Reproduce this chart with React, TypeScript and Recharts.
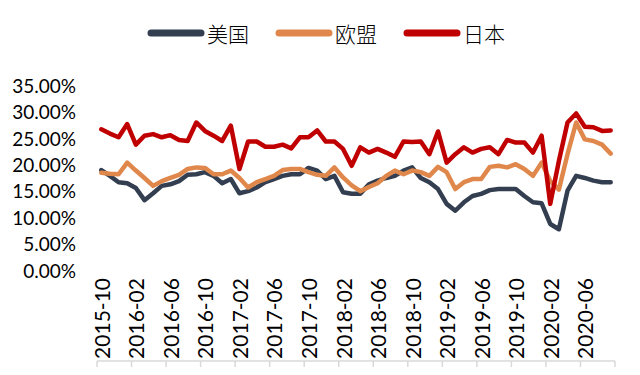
import React from 'react';
import { LineChart, Line, XAxis, YAxis, Legend } from 'recharts';

const months: string[] = [
  '2015-10', '2015-11', '2015-12',
  '2016-01', '2016-02', '2016-03', '2016-04', '2016-05', '2016-06', '2016-07', '2016-08', '2016-09', '2016-10', '2016-11', '2016-12',
  '2017-01', '2017-02', '2017-03', '2017-04', '2017-05', '2017-06', '2017-07', '2017-08', '2017-09', '2017-10', '2017-11', '2017-12',
  '2018-01', '2018-02', '2018-03', '2018-04', '2018-05', '2018-06', '2018-07', '2018-08', '2018-09', '2018-10', '2018-11', '2018-12',
  '2019-01', '2019-02', '2019-03', '2019-04', '2019-05', '2019-06', '2019-07', '2019-08', '2019-09', '2019-10', '2019-11', '2019-12',
  '2020-01', '2020-02', '2020-03', '2020-04', '2020-05', '2020-06', '2020-07', '2020-08', '2020-09',
];

const usa: number[] = [
  19.1, 18.0, 16.8, 16.6, 15.7, 13.4, 14.7, 16.1, 16.4, 17.0, 18.2, 18.3,
  18.7, 18.0, 16.6, 17.4, 14.7, 15.1, 15.8, 16.8, 17.4, 18.0, 18.3, 18.3,
  19.5, 19.0, 17.4, 18.0, 14.9, 14.6, 14.6, 16.4, 17.1, 17.6, 18.0, 19.0,
  19.6, 17.6, 16.8, 15.5, 12.7, 11.4, 13.0, 14.2, 14.6, 15.3, 15.5, 15.5,
  15.5, 14.2, 13.0, 12.8, 8.9, 7.9, 15.2, 18.0, 17.6, 17.1, 16.8, 16.8,
];

const eu: number[] = [
  18.6, 18.4, 18.3, 20.5, 19.0, 17.6, 16.1, 17.0, 17.6, 18.2, 19.3, 19.6,
  19.5, 18.3, 18.3, 19.0, 17.6, 15.8, 16.8, 17.4, 18.0, 19.1, 19.3, 19.3,
  18.7, 18.2, 18.0, 19.6, 17.7, 16.2, 15.1, 15.9, 16.6, 18.0, 19.0, 18.3,
  19.0, 18.7, 18.0, 19.7, 18.7, 15.5, 16.8, 17.4, 17.4, 19.7, 19.9, 19.6,
  20.2, 19.3, 18.0, 20.5, 17.0, 15.4, 22.1, 28.1, 24.9, 24.6, 23.9, 22.2,
];

const japan: number[] = [
  26.8, 26.0, 25.3, 27.8, 23.9, 25.6, 25.9, 25.3, 25.7, 24.8, 24.6, 28.1,
  26.5, 25.6, 24.6, 27.5, 19.3, 24.5, 24.5, 23.5, 23.5, 23.9, 23.2, 25.3,
  25.3, 26.6, 24.5, 24.5, 23.1, 19.9, 23.4, 22.4, 23.1, 22.4, 21.6, 24.5,
  24.4, 24.5, 22.1, 26.4, 20.5, 22.1, 23.4, 22.4, 23.1, 23.4, 22.1, 24.8,
  24.3, 24.3, 22.4, 25.6, 12.7, 20.8, 28.1, 29.8, 27.3, 27.2, 26.5, 26.6,
];

const seriesNames = { usa: '美国', eu: '欧盟', japan: '日本' };
const colors = { usa: '#333F50', eu: '#E0884C', japan: '#C00000' };

const yTicks: number[] = [0, 5, 10, 15, 20, 25, 30, 35];
const boundaryTicks: number[] = [0, 4, 8, 12, 16, 20, 24, 28, 32, 36, 40, 44, 48, 52, 56, 60];
const labelTicks: number[] = [0.5, 4.5, 8.5, 12.5, 16.5, 20.5, 24.5, 28.5, 32.5, 36.5, 40.5, 44.5, 48.5, 52.5, 56.5];

const data = months.map((m, i) => ({
  x: i + 0.5,
  month: m,
  usa: usa[i],
  eu: eu[i],
  japan: japan[i],
}));

const FONT = 'Lato, "Noto Sans", sans-serif';

const MonthTick = (props: any) => {
  const { x, y, payload } = props;
  const label = months[Math.floor(payload.value)];
  const ty = y + 7;
  return (
    <text
      x={x}
      y={ty}
      transform={`rotate(-90, ${x}, ${ty})`}
      textAnchor="end"
      dominantBaseline="central"
      fontSize={21}
      fontFamily={FONT}
      fill="#000"
    >
      {label}
    </text>
  );
};

const LegendContent = () => {
  const keys: Array<'usa' | 'eu' | 'japan'> = ['usa', 'eu', 'japan'];
  return (
    <div style={{ height: 86, width: 640, position: 'relative' }}>
      <div style={{ position: 'absolute', top: 20, left: 147, display: 'flex', alignItems: 'center' }}>
        {keys.map((k, idx) => (
          <div key={k} style={{ display: 'flex', alignItems: 'center', marginRight: idx < 2 ? 26 : 0 }}>
            <svg width={58} height={12} style={{ display: 'block' }}>
              <line x1={4} y1={6} x2={54} y2={6} stroke={colors[k]} strokeWidth={7} strokeLinecap="round" />
            </svg>
            <span style={{ fontFamily: '"Noto Sans CJK SC", sans-serif', fontSize: 21, lineHeight: '26px', color: '#000', marginLeft: 2, fontWeight: 300 }}>
              {seriesNames[k]}
            </span>
          </div>
        ))}
      </div>
    </div>
  );
};

export default function App() {
  return (
    <div style={{ width: 640, height: 375 }}>
      <style>{'body{margin:0;}'}</style>
      <LineChart width={640} height={375} data={data} margin={{ top: 0, right: 25, bottom: 7, left: 0 }}>
        <Legend verticalAlign="top" content={<LegendContent />} wrapperStyle={{ left: 0, top: 0, width: 640 }} />
        <XAxis
          xAxisId="ticks"
          dataKey="x"
          type="number"
          domain={[0, 60]}
          ticks={boundaryTicks}
          interval={0}
          height={7}
          tickSize={6}
          tickFormatter={() => ''}
          axisLine={{ stroke: '#D9D9D9', strokeWidth: 1.5 }}
          tickLine={{ stroke: '#D9D9D9', strokeWidth: 1.5 }}
        />
        <XAxis
          xAxisId="labels"
          dataKey="x"
          type="number"
          domain={[0, 60]}
          ticks={labelTicks}
          interval={0}
          height={90}
          tickSize={0}
          tickMargin={0}
          axisLine={false}
          tickLine={false}
          tick={<MonthTick />}
        />
        <YAxis
          domain={[0, 35]}
          ticks={yTicks}
          interval={0}
          width={97}
          axisLine={false}
          tickLine={false}
          tickSize={0}
          tickMargin={21}
          tickFormatter={(v: number) => v.toFixed(2) + '%'}
          tick={{ fontSize: 19, fontFamily: FONT, fill: '#000' }}
        />
        {(['usa', 'eu', 'japan'] as const).map((k) => (
          <Line
            key={k}
            xAxisId="ticks"
            type="linear"
            dataKey={k}
            name={seriesNames[k]}
            stroke={colors[k]}
            strokeWidth={4.5}
            strokeLinejoin="round"
            strokeLinecap="round"
            dot={false}
            activeDot={false}
            isAnimationActive={false}
          />
        ))}
      </LineChart>
    </div>
  );
}
